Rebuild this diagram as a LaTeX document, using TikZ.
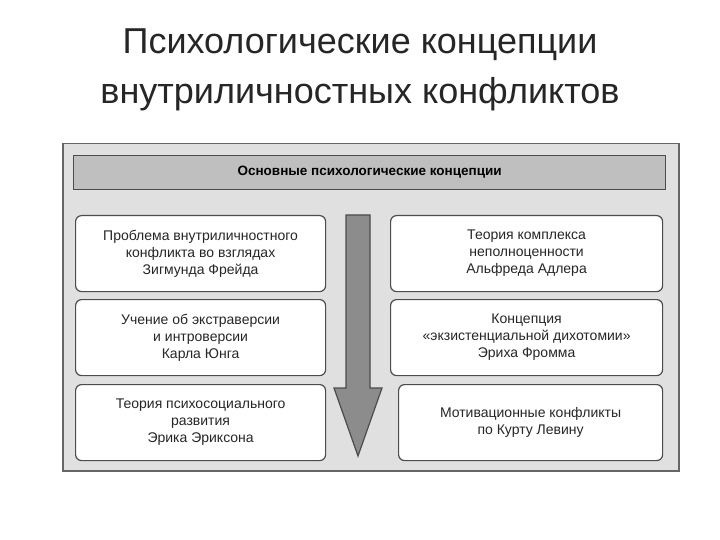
\documentclass[tikz,border=0pt]{standalone}
\usepackage{fontspec}
\setmainfont{Liberation Sans}
\begin{document}
\begin{tikzpicture}[x=1pt,y=-1pt,
  box/.style={draw=black!70,line width=1.2pt,rounded corners=6pt,fill=white,align=center,font=\fontsize{14}{17}\selectfont,text=black!85,inner sep=0pt},
  ttl/.style={font=\fontsize{36}{50}\selectfont,align=center,text=black!85}]
\useasboundingbox (0,0) rectangle (720,540);
\node[ttl] (title) at (360,70) {Психологические концепции\\внутриличностных конфликтов};
\node[draw=black!60,line width=1.5pt,fill=black!12,minimum width=616pt,minimum height=327pt,anchor=north west,inner sep=0pt] (frame) at (62,143) {};
\node[draw=black!70,line width=1.2pt,fill=black!25,minimum width=592pt,minimum height=34pt,anchor=north west,inner sep=0pt,font=\bfseries\fontsize{13.5}{15}\selectfont] (head) at (73,155) {Основные психологические концепции};
\node[box,minimum width=250pt,minimum height=76pt,anchor=north west] (l1) at (75,215) {Проблема внутриличностного\\конфликта во взглядах\\Зигмунда Фрейда};
\node[box,minimum width=250pt,minimum height=76pt,anchor=north west] (l2) at (75,299) {Учение об экстраверсии\\и интроверсии\\Карла Юнга};
\node[box,minimum width=250pt,minimum height=76pt,anchor=north west] (l3) at (75,384) {Теория психосоциального\\развития\\Эрика Эриксона};
\node[box,minimum width=272pt,minimum height=76pt,anchor=north west] (r1) at (390,215) {Теория комплекса\\неполноценности\\Альфреда Адлера};
\node[box,minimum width=272pt,minimum height=76pt,anchor=north west] (r2) at (390,299) {Концепция\\«экзистенциальной дихотомии»\\Эриха Фромма};
\node[box,minimum width=264pt,minimum height=76pt,anchor=north west] (r3) at (398,384) {Мотивационные конфликты\\по Курту Левину};
\draw[draw=black!70,line width=1.2pt,fill=black!45] (346,215) -- (370,215) -- (370,388) -- (382,388) -- (358,456) -- (334,388) -- (346,388) -- cycle;
\end{tikzpicture}
\end{document}
